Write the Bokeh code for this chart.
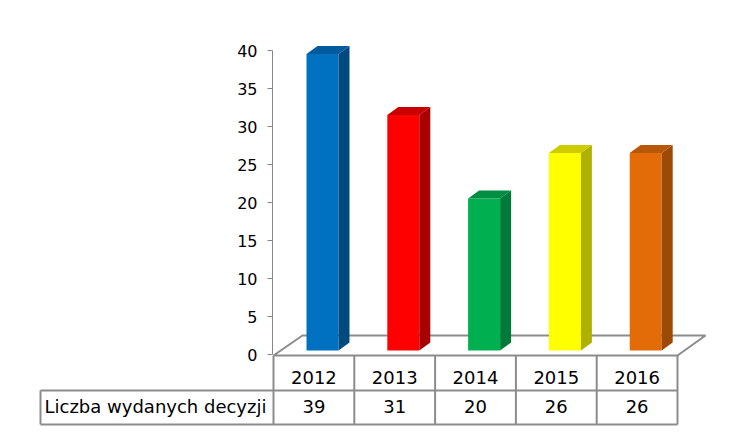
import numpy as np
from bokeh.plotting import figure
from bokeh.models import Range1d, FixedTicker
from bokeh.core.properties import value
from bokeh.embed import file_html
from bokeh.resources import INLINE

# ---- data ----
years = ["2012", "2013", "2014", "2015", "2016"]
decisions = [39, 31, 20, 26, 26]
row_label = "Liczba wydanych decyzji"
y_ticks = [0, 5, 10, 15, 20, 25, 30, 35, 40]

# ---- styles ----
front_colors = ["#0070C0", "#FF0000", "#00B050", "#FFFF00", "#E36C09"]
side_colors = ["#004A80", "#A80000", "#007A38", "#B0B000", "#9C4A06"]
top_colors = ["#005A9C", "#C80000", "#008F42", "#CCCC00", "#B85707"]
GRID = "#8C8C8C"
FONT = "DejaVu Sans"

# ---- layout (page pixels -> data units) ----
CAT_PX = 80.8   # px per category column
X0 = 273        # page x of category 0 left edge
VAL_PX = 7.6    # px per value unit
Y0 = 354        # page y of value 0
OFF = 0         # page offset of the figure
W, H = 726, 431


def ux(px):
    return (px - X0) / CAT_PX


def vy(py):
    return (Y0 - py) / VAL_PX


p = figure(width=W, height=H, output_backend="svg", toolbar_location=None,
           x_range=Range1d(ux(OFF), ux(OFF + W)),
           y_range=Range1d(vy(OFF + H), vy(OFF)),
           min_border=0, outline_line_color=None)
p.xgrid.visible = False
p.ygrid.visible = False
p.xaxis.visible = False

# floor
p.patch(x=[ux(273), ux(677), ux(705), ux(302)],
        y=[vy(355), vy(355), vy(335), vy(335)],
        fill_color="white", line_color=GRID, line_width=2)

# table grid
n = len(years)
tab_top, tab_mid, tab_bot = vy(355), vy(390), vy(424)
x_label_left = ux(40)
seg_x0 = [x_label_left, x_label_left, x_label_left]
seg_y0 = [tab_mid, tab_bot, tab_mid]
seg_x1 = [n, n, x_label_left]
seg_y1 = [tab_mid, tab_bot, tab_bot]
for i in range(n + 1):
    seg_x0.append(i)
    seg_x1.append(i)
    seg_y0.append(tab_top)
    seg_y1.append(tab_bot)
p.segment(x0=seg_x0, y0=seg_y0, x1=seg_x1, y1=seg_y1,
          line_color=GRID, line_width=2)

# bars (pseudo 3D)
idx = np.arange(n)
vals = np.array(decisions, dtype=float)
xl = idx + ux(306)
xr = idx + ux(338)
dx = 11 / CAT_PX
dy = 8 / VAL_PX
base = vy(350)
top = base + vals

side_xs = [[a, a + dx, a + dx, a] for a in xr]
side_ys = [[base, base + dy, t + dy, t] for t in top]
top_xs = [[l, r, r + dx, l + dx] for l, r in zip(xl, xr)]
top_ys = [[t, t, t + dy, t + dy] for t in top]

p.quad(left=xl, right=xr, bottom=base, top=top,
       fill_color=front_colors, line_color=None)
p.patches(xs=side_xs, ys=side_ys, fill_color=side_colors, line_color=None)
p.patches(xs=top_xs, ys=top_ys, fill_color=top_colors, line_color=None)

# table text
centers = idx + 0.5
p.text(x=centers, y=[vy(377)] * n, text=years, text_font=value(FONT),
       text_font_size="18px", text_align="center", text_baseline="middle",
       text_color="black")
p.text(x=centers, y=[vy(406)] * n, text=[str(v) for v in decisions],
       text_font=value(FONT), text_font_size="18px", text_align="center",
       text_baseline="middle", text_color="black")
p.text(x=[ux(44)], y=[vy(406)], text=[row_label], text_font=value(FONT),
       text_font_size="18px", text_align="left", text_baseline="middle",
       text_color="black")

# value axis
ax = p.yaxis[0]
ax.fixed_location = ux(272)
ax.bounds = (0, 40)
ax.ticker = FixedTicker(ticks=y_ticks)
ax.major_tick_out = 5
ax.major_tick_in = 0
ax.minor_tick_out = 0
ax.minor_tick_in = 0
ax.axis_line_color = "#868686"
ax.major_tick_line_color = "#868686"
ax.major_label_text_font = FONT
ax.major_label_text_font_size = "16px"
ax.major_label_text_color = "black"
ax.major_label_standoff = 10

open("out.html", "w").write(file_html(p, INLINE))
